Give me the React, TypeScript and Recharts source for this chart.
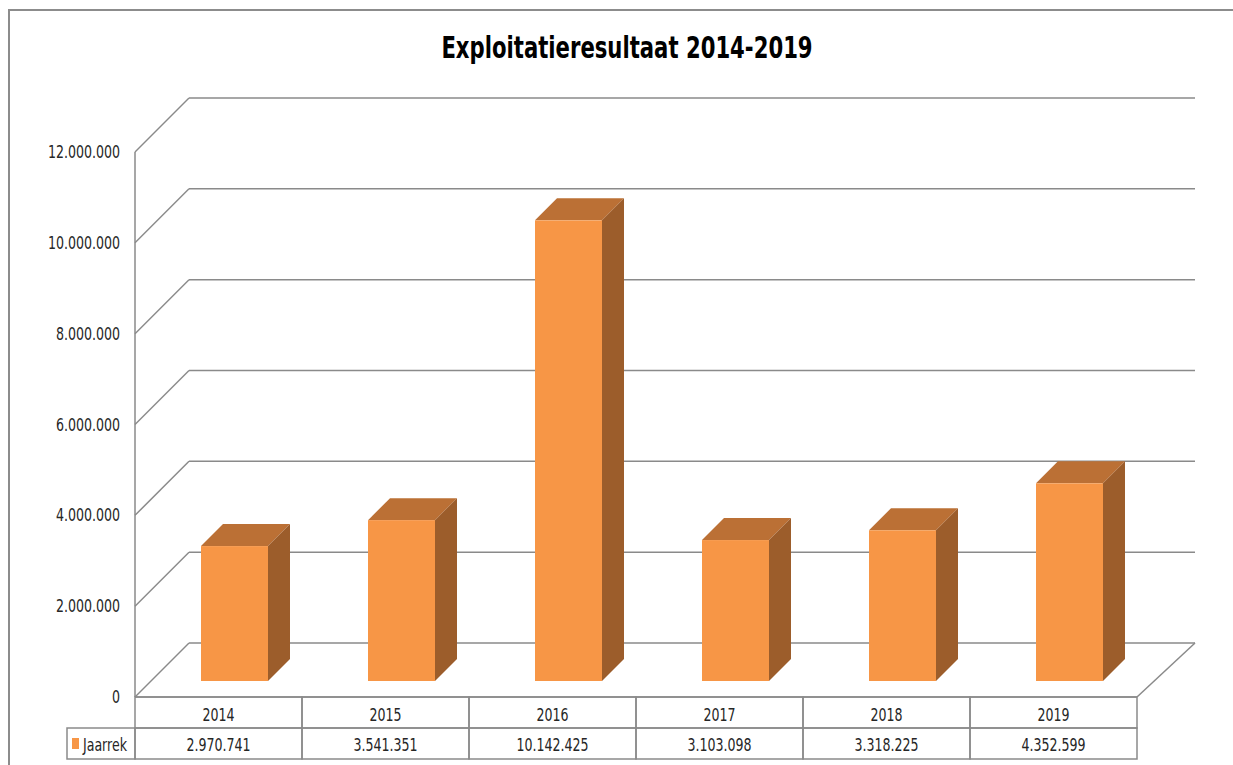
import React from 'react';
import { BarChart, Bar, XAxis, YAxis, CartesianGrid } from 'recharts';

const title = 'Exploitatieresultaat 2014-2019';
const seriesName = 'Jaarrek';
const years = ['2014', '2015', '2016', '2017', '2018', '2019'];
const jaarrek = [2970741, 3541351, 10142425, 3103098, 3318225, 4352599];
const yTicks = [0, 2000000, 4000000, 6000000, 8000000, 10000000, 12000000];

const data = years.map((year, i) => ({ year, value: jaarrek[i] }));

const W = 1233;
const H = 765;
const ML = 151;
const MR = 80;
const MT = 136;
const XH = 84;
const FRONT = 16;
const BACK = 38;
const BAR_D = 22;
const BAND = (W - ML - MR) / years.length;
const ROW = 31;
const GRID = '#8a8a8a';
const FONT = "'DejaVu Sans Condensed', 'DejaVu Sans', sans-serif";
const SX = 0.8;

const fmt = (v: number) => String(Math.round(v)).replace(/\B(?=(\d{3})+(?!\d))/g, '.');

const NText = ({ x, y, anchor = 'middle', size = 17.5, weight = 'normal', sx = SX, fill = '#262626', children }: any) => (
  <g transform={`translate(${x},${y}) scale(${sx},1)`}>
    <text x={0} y={0} dy="0.35em" textAnchor={anchor} fontSize={size} fontWeight={weight} fontFamily={FONT} fill={fill}>
      {children}
    </text>
  </g>
);

const Bar3D = (p: any) => {
  const { x, y, width, height } = p;
  if (!height || height <= 0) return null;
  const d = BAR_D;
  return (
    <g>
      <polygon
        points={`${x},${y} ${x + width},${y} ${x + width + d},${y - d} ${x + d},${y - d}`}
        fill="#BB7035"
      />
      <polygon
        points={`${x + width},${y} ${x + width + d},${y - d} ${x + width + d},${y + height - d} ${x + width},${y + height}`}
        fill="#9C5D2B"
      />
      <rect x={x} y={y} width={width} height={height} fill="#F79646" />
    </g>
  );
};

const gridLine = (p: any) => {
  const { x1, x2, y1, index } = p;
  const yb = y1 - BACK;
  const yf = y1 + FRONT;
  const fx = x1 - FRONT;
  const bx = x1 + BACK;
  const bxr = x2 + 42;
  const bottom = p.y + p.height;
  const isFloor = Math.abs(y1 - bottom) < 1;
  const isTop = Math.abs(y1 - p.y) < 1;
  const approx = yTicks[yTicks.length - 1] * (bottom - y1) / p.height;
  const label = yTicks.reduce((best, t) => (Math.abs(t - approx) < Math.abs(best - approx) ? t : best), yTicks[0]);
  return (
    <g key={p.key ?? `gl-${index}`}>
      <line x1={fx} y1={yf} x2={bx} y2={yb} stroke={GRID} strokeWidth={1.5} />
      <line x1={bx} y1={yb} x2={bxr} y2={yb} stroke={GRID} strokeWidth={1.5} />
      {isFloor && (
        <line x1={x2 - FRONT} y1={yf} x2={bxr} y2={yb} stroke={GRID} strokeWidth={1.5} />
      )}
      {isTop && (
        <line x1={fx} y1={yf} x2={fx} y2={bottom + FRONT} stroke={GRID} strokeWidth={1.5} />
      )}
      <NText x={120} y={yf} anchor="end">{fmt(label)}</NText>
    </g>
  );
};

const XTick = (p: any) => {
  const { x, y, payload } = p;
  const i = payload.index ?? p.index;
  const cx = x - FRONT;
  const left = cx - BAND / 2;
  const top = y + FRONT;
  return (
    <g>
      <rect x={left} y={top} width={BAND} height={ROW} fill="none" stroke={GRID} strokeWidth={1.5} />
      <rect x={left} y={top + ROW} width={BAND} height={ROW} fill="none" stroke={GRID} strokeWidth={1.5} />
      <NText x={cx} y={top + ROW / 2 + 2}>{payload.value}</NText>
      <NText x={cx} y={top + ROW * 1.5 + 1}>{fmt(jaarrek[i])}</NText>
      {i === 0 && (
        <g>
          <rect x={left - 68} y={top + ROW} width={68} height={ROW} fill="none" stroke={GRID} strokeWidth={1.5} />
          <rect x={left - 63} y={top + ROW + 10} width={7} height={11} fill="#F79646" />
          <NText x={left - 52} y={top + ROW * 1.5 + 1} anchor="start">{seriesName}</NText>
        </g>
      )}
    </g>
  );
};

export default function App() {
  return (
    <div style={{ position: 'absolute', left: 0, top: 0, width: W, height: H, background: '#fff', overflow: 'hidden' }}>
      <svg width={W} height={H} style={{ position: 'absolute', left: 0, top: 0 }}>
        <path d={`M9,${H} L9,10 L${W},10`} fill="none" stroke="#8c8c8c" strokeWidth={2} />
        <NText x={627} y={47} size={31} weight="bold" sx={0.76} fill="#000">{title}</NText>
      </svg>
      <div style={{ position: 'absolute', left: 0, top: 0 }}>
        <BarChart
          width={W}
          height={H}
          data={data}
          margin={{ top: MT, right: MR, bottom: 0, left: ML }}
          barCategoryGap={50}
        >
          <CartesianGrid vertical={false} horizontal={gridLine} />
          <XAxis
            dataKey="year"
            height={XH}
            tickSize={0}
            tickMargin={0}
            tickLine={false}
            axisLine={{ stroke: GRID, strokeWidth: 1.5, transform: `translate(${-FRONT},${FRONT})` }}
            tick={<XTick />}
            interval={0}
          />
          <YAxis hide domain={[0, 12000000]} ticks={yTicks} />
          <Bar dataKey="value" shape={<Bar3D />} isAnimationActive={false} />
        </BarChart>
      </div>
    </div>
  );
}
